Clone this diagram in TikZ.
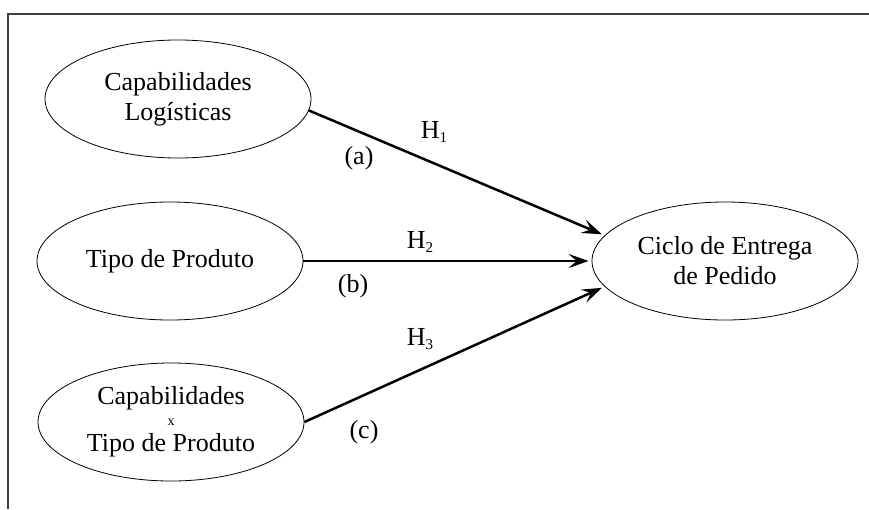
\documentclass[tikz,border=0pt]{standalone}
\usepackage{fontspec}
\setmainfont{Liberation Serif}
\usetikzlibrary{shapes.geometric,arrows.meta}
\tikzset{
  construct/.style={draw, ellipse, line width=0.8pt, minimum width=266pt, minimum height=118pt,
    inner sep=0pt, align=center, font=\fontsize{26}{30}\selectfont},
  rel/.style={line width=2.5pt, -{Stealth[length=20pt,width=14pt,inset=8pt]}, shorten >=3pt},
  lab/.style={inner sep=0pt, font=\fontsize{26}{30}\selectfont}
}
\newcommand{\hsub}[1]{H{\fontsize{15}{15}\selectfont\raisebox{-4pt}{#1}}}
\begin{document}
\begin{tikzpicture}[x=1pt,y=-1pt]
\useasboundingbox (0,0) rectangle (869,509);
\draw[line width=1.4pt, black!75] (8,509) -- (8,14) -- (869,14);
\node[construct] (c1) at (178,99) {Capabilidades\\Logísticas};
\node[construct] (c2) at (170,261) {Tipo de Produto};
\node[construct] (c3) at (171,422) {Capabilidades\\[-9pt]{\fontsize{14}{14}\selectfont x}\\[-4pt]Tipo de Produto};
\node[construct] (c4) at (725,261) {Ciclo de Entrega\\de Pedido};
\draw[rel] (c1.-5.5) -- (c4.168);
\draw[rel] (c2.east) -- (c4.west);
\draw[rel] (c3.east) -- (c4.192);
\node[lab] (h1) at (434,132) {\hsub{1}};
\node[lab] (la) at (359,158) {(a)};
\node[lab] (h2) at (420,242) {\hsub{2}};
\node[lab] (lb) at (353,286) {(b)};
\node[lab] (h3) at (420,339) {\hsub{3}};
\node[lab] (lc) at (364,432) {(c)};
\end{tikzpicture}
\end{document}
